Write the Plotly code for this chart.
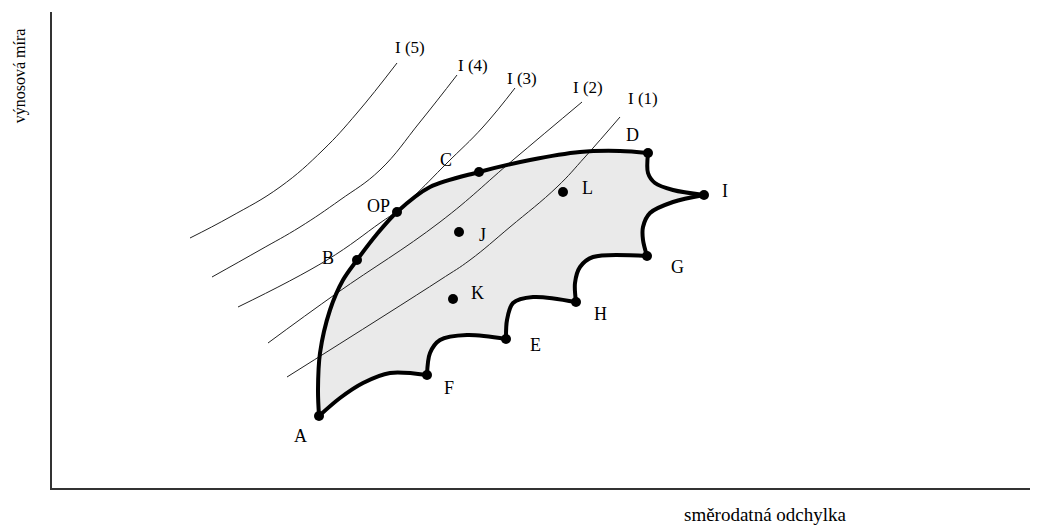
"""Efficient frontier with indifference curves (schematic)"""
import plotly.graph_objects as go

# chart coordinates: x = směrodatná odchylka, y = výnosová míra (origin at axes corner)
X_MAX = 986
Y_MAX = 476

# boundary of the feasible set, one list per segment between the marked portfolios
SEGMENTS = {
  "A-D": ([267, 266, 268, 278, 291, 305, 325, 345, 378, 427, 478, 528, 568, 596],
          [72, 98, 135, 178, 208, 228, 254, 276, 301, 316, 328, 336, 337, 335]),
  "D-I": ([596, 596, 603, 621, 652], [335, 315, 305, 298, 293]),
  "I-G": ([652, 621, 598, 591, 591, 595], [293, 286, 275, 261, 248, 232]),
  "G-H": ([595, 541, 528, 523, 524], [232, 231, 221, 205, 186]),
  "H-E": ([524, 481, 461, 455, 454], [186, 191, 185, 168, 149]),
  "E-F": ([454, 415, 388, 378, 375], [149, 153, 148, 135, 113]),
  "F-A": ([375, 338, 311, 288, 267], [113, 115, 105, 90, 72]),
}

# marked portfolios
POINT_NAMES = ["A", "B", "OP", "C", "D", "I", "G", "H", "E", "F", "J", "K", "L"]
POINT_X = [267, 305, 345, 427, 596, 652, 595, 524, 454, 375, 407, 401, 511]
POINT_Y = [72, 228, 276, 316, 335, 293, 232, 186, 149, 113, 256, 189, 296]
LABEL_X = [248, 276, 326, 394, 580, 673, 625, 548, 483, 397, 430, 425, 535]
LABEL_Y = [52, 230, 282, 328, 353, 297, 221, 174, 143, 100, 253, 195, 300]

# indifference curves I (1) .. I (5)
CURVE_NAMES = ["I (5)", "I (4)", "I (3)", "I (2)", "I (1)"]
CURVE_X = [
  [345, 305, 271, 228, 178, 138],
  [405, 368, 328, 288, 248, 208, 160],
  [463, 431, 395, 361, 345, 328, 275, 186],
  [530, 461, 388, 285, 216],
  [568, 533, 505, 458, 418, 388, 235],
]
CURVE_Y = [
  [425, 375, 338, 301, 271, 250],
  [413, 366, 318, 288, 261, 238, 211],
  [400, 361, 325, 291, 277, 265, 228, 181],
  [386, 328, 266, 195, 145],
  [371, 331, 301, 261, 228, 208, 111],
]
CURVE_LABEL_X = [358, 421, 470, 536, 591]
CURVE_LABEL_Y = [441, 423, 410, 401, 390]

SERIF = "Liberation Serif, Times New Roman, serif"
FILL_COLOR = "#eaeaea"


def main():
  fig = go.Figure()

  # shaded feasible set
  fill_x, fill_y = [], []
  for xs, ys in SEGMENTS.values():
    fill_x += xs
    fill_y += ys
  fig.add_trace(go.Scatter(
    x=fill_x, y=fill_y, fill="toself", fillcolor=FILL_COLOR,
    mode="lines", line=dict(width=0, shape="spline", smoothing=0.6),
    hoverinfo="skip",
  ))

  # indifference curves
  for name, xs, ys in zip(CURVE_NAMES, CURVE_X, CURVE_Y):
    fig.add_trace(go.Scatter(
      x=xs, y=ys, mode="lines", name=name,
      line=dict(color="#222222", width=1, shape="spline", smoothing=1.2),
    ))

  # frontier / boundary
  for name, (xs, ys) in SEGMENTS.items():
    fig.add_trace(go.Scatter(
      x=xs, y=ys, mode="lines", name=name,
      line=dict(color="black", width=4, shape="spline", smoothing=0.9),
    ))

  fig.add_trace(go.Scatter(
    x=POINT_X, y=POINT_Y, mode="markers",
    marker=dict(color="black", size=10), hovertext=POINT_NAMES,
  ))

  annotations = []
  for name, x, y in zip(POINT_NAMES, LABEL_X, LABEL_Y):
    annotations.append(dict(x=x, y=y, text=name, showarrow=False,
                            font=dict(family=SERIF, size=18, color="black")))
  for name, x, y in zip(CURVE_NAMES, CURVE_LABEL_X, CURVE_LABEL_Y):
    annotations.append(dict(x=x, y=y, text=name, showarrow=False,
                            font=dict(family=SERIF, size=17, color="black")))
  # axis titles sit outside the axis ranges, so place them on paper
  annotations.append(dict(xref="paper", yref="paper", x=-0.033, y=0.866,
                          xanchor="center", yanchor="middle",
                          text="výnosová míra", textangle=-90, showarrow=False,
                          font=dict(family=SERIF, size=16, color="black")))
  annotations.append(dict(xref="paper", yref="paper", x=0.724, y=-0.056,
                          xanchor="center", yanchor="middle", borderpad=0,
                          text="směrodatná odchylka", showarrow=False,
                          font=dict(family=SERIF, size=19, color="black")))

  fig.update_xaxes(range=[0, X_MAX], showgrid=False, zeroline=False, showticklabels=False,
                   showline=True, linecolor="#333333", linewidth=2)
  fig.update_yaxes(range=[0, Y_MAX], showgrid=False, zeroline=False, showticklabels=False,
                   showline=True, linecolor="#333333", linewidth=2)
  # the page body has an 8px margin, so the figure is 8px smaller
  fig.update_layout(
    width=1030, height=520,
    margin=dict(l=44, r=0, t=4, b=40),
    plot_bgcolor="white", paper_bgcolor="white",
    showlegend=False,
    annotations=annotations,
  )
  fig.write_html("out.html")


if __name__ == "__main__":
  main()
